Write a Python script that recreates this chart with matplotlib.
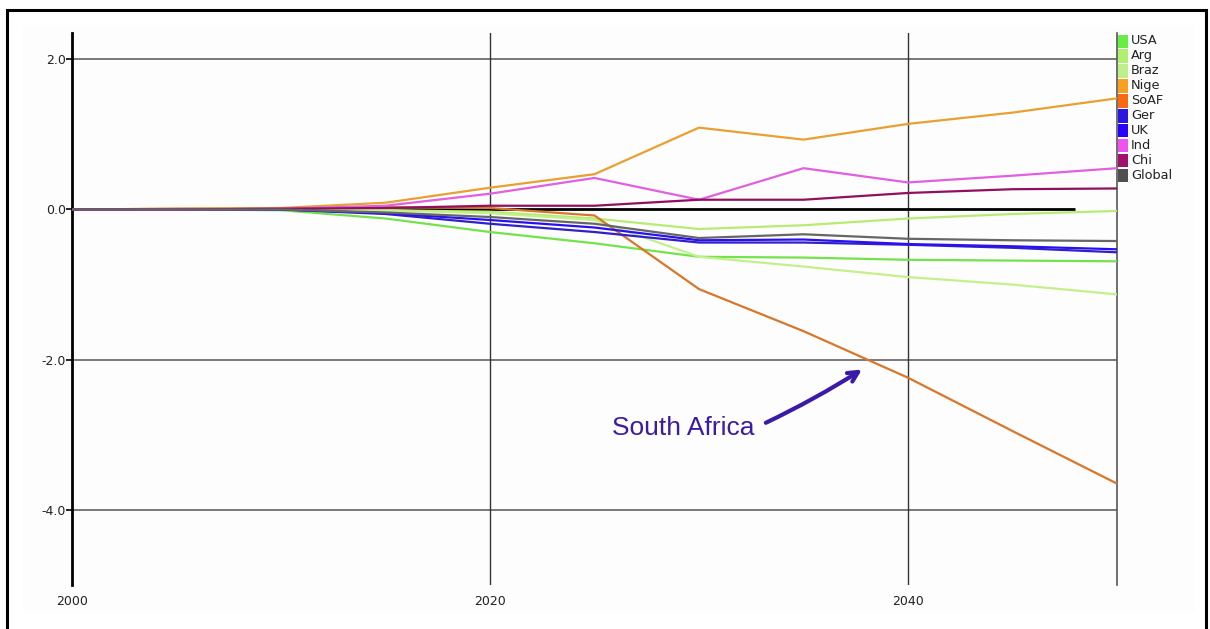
import matplotlib
matplotlib.use("Agg")
import matplotlib.pyplot as plt
from matplotlib.patches import Rectangle
from matplotlib.ticker import FixedLocator, FuncFormatter

plt.rcParams['axes.unicode_minus'] = False
plt.rcParams['font.family'] = ['DejaVu Sans']

years = [2000, 2005, 2010, 2015, 2020, 2025, 2030, 2035, 2040, 2045, 2050]
names = ["USA", "Arg", "Braz", "Nige", "SoAF", "Ger", "UK", "Ind", "Chi", "Global"]

usa    = [0, 0, -0.01, -0.12, -0.30, -0.45, -0.63, -0.64, -0.67, -0.68, -0.69]
arg    = [0, 0, 0, -0.01, -0.03, -0.12, -0.26, -0.21, -0.12, -0.06, -0.02]
braz   = [0, 0, 0, -0.01, -0.05, -0.14, -0.63, -0.76, -0.90, -1.00, -1.13]
nige   = [0, 0.01, 0.02, 0.09, 0.29, 0.47, 1.09, 0.93, 1.14, 1.29, 1.48]
soaf   = [0, 0.01, 0.01, 0.03, 0.02, -0.08, -1.06, -1.62, -2.24, -2.95, -3.65]
ger    = [0, 0, 0, -0.06, -0.19, -0.30, -0.44, -0.44, -0.47, -0.51, -0.57]
uk     = [0, 0, 0, -0.05, -0.14, -0.24, -0.41, -0.40, -0.46, -0.49, -0.53]
ind    = [0, 0, 0.01, 0.05, 0.21, 0.42, 0.13, 0.55, 0.36, 0.45, 0.55]
chi    = [0, 0, 0.01, 0.02, 0.05, 0.05, 0.13, 0.13, 0.22, 0.27, 0.28]
glob   = [0, 0, 0, -0.04, -0.10, -0.19, -0.38, -0.33, -0.39, -0.41, -0.42]
series = [usa, arg, braz, nige, soaf, ger, uk, ind, chi, glob]

yticks = [2.0, 0.0, -2.0, -4.0]
xticks = [2000, 2020, 2040]

line_colors = ["#74e24c", "#b6ec74", "#c4f08c", "#e8a030", "#d8762a",
               "#3020c8", "#2a10f0", "#e060e0", "#901060", "#666666"]
swatch_colors = ["#66ee44", "#aef070", "#bdf08a", "#f8a020", "#f86a10",
                 "#2a18e0", "#2a00ff", "#f052f0", "#a0106c", "#505050"]

W, H = 1210, 629
fig = plt.figure(figsize=(W / 100, H / 100), dpi=100)
fig.patch.set_facecolor("white")

# light panel background and outer frame
fig.add_artist(Rectangle((23 / W, 1 - 613 / H), (1195 - 23) / W, (613 - 25) / H,
                         transform=fig.transFigure, facecolor="#fdfdfd",
                         edgecolor="none", zorder=0))
fig.add_artist(Rectangle((7 / W, -0.1), (1206 - 7) / W, 1.1 - 10 / H,
                         transform=fig.transFigure, fill=False,
                         edgecolor="black", lw=2.2, zorder=10))

x0, x1, ytop, ybot = 72, 1117, 33, 585
ax = fig.add_axes([x0 / W, 1 - ybot / H, (x1 - x0) / W, (ybot - ytop) / H])
ax.set_facecolor("none")
ax.set_xlim(2000, 2050)
ax.set_ylim(-5.0, 2.35)

for s in ["top", "bottom"]:
    ax.spines[s].set_visible(False)
ax.spines["left"].set_linewidth(2)
ax.spines["left"].set_color("black")
ax.spines["right"].set_linewidth(1.2)
ax.spines["right"].set_color("#555555")

ax.yaxis.set_major_locator(FixedLocator(yticks))
ax.yaxis.set_major_formatter(FuncFormatter(lambda v, p: f"{v:.1f}"))
ax.xaxis.set_major_locator(FixedLocator(xticks))
ax.xaxis.set_major_formatter(FuncFormatter(lambda v, p: f"{int(v)}"))
ax.tick_params(axis="y", direction="out", length=4, width=1.2, pad=0.5,
               labelsize=9, labelcolor="#222222", color="black")
ax.tick_params(axis="x", length=0, pad=7, labelsize=9, labelcolor="#222222")

for yv in yticks:
    if yv != 0:
        ax.axhline(yv, color="#555555", lw=1.1, zorder=1)
for xv in xticks[1:]:
    ax.axvline(xv, color="#333333", lw=1.0, zorder=1)

ax.hlines(0, years[0], 2048, color="black", lw=2, zorder=2)

for vals, c in zip(series, line_colors):
    ax.plot(years, vals, color=c, lw=1.6, zorder=3, solid_joinstyle="round")

# annotation
ax.text(2025.85, -3.0, "South Africa", color="#3c1ca0", fontsize=19,
        family="Liberation Sans", va="baseline", ha="left", zorder=5)
ax.annotate("", xy=(2037.8, -2.13), xytext=(2033.2, -2.84),
            arrowprops=dict(arrowstyle="->", lw=3, color="#3a1aa8",
                            connectionstyle="arc3,rad=0.03",
                            mutation_scale=18, shrinkA=0, shrinkB=0),
            zorder=5)

# legend
row0, step = 41, 14.9
for i, (nm, c) in enumerate(zip(names, swatch_colors)):
    yc = row0 + step * i
    fig.add_artist(Rectangle((1118 / W, 1 - (yc + 7) / H), 10 / W, 13.5 / H,
                             transform=fig.transFigure, facecolor=c,
                             edgecolor="none", zorder=4))
    fig.text(1131 / W, 1 - yc / H, nm, fontsize=9.3, color="#222222",
             va="center", ha="left")

fig.savefig("out.png", dpi=100)
